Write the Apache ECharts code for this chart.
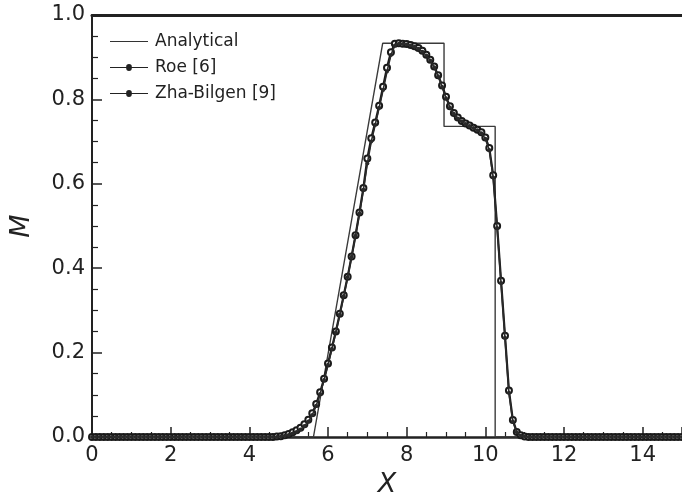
<!DOCTYPE html>
<html><head><meta charset="utf-8">
<script src="https://cdn.jsdelivr.net/npm/echarts@6/dist/echarts.min.js"></script>
<style>html,body{margin:0;padding:0;background:#fff}#c{width:682px;height:503px}</style>
</head><body><div id="c"></div>
<script>
var analyticX = [0, 5.63, 7.39, 8.95, 8.95, 10.25, 10.25, 15];
var analyticM = [0, 0, 0.933, 0.933, 0.736, 0.736, 0, 0];

var xGrid = [0,0.1,0.2,0.3,0.4,0.5,0.6,0.7,0.8,0.9,1,1.1,1.2,1.3,1.4,1.5,1.6,1.7,1.8,1.9,2,2.1,2.2,2.3,2.4,2.5,2.6,2.7,2.8,2.9,3,3.1,3.2,3.3,3.4,3.5,3.6,3.7,3.8,3.9,4,4.1,4.2,4.3,4.4,4.5,4.6,4.7,4.8,4.9,5,5.1,5.2,5.3,5.4,5.5,5.6,5.7,5.8,5.9,6,6.1,6.2,6.3,6.4,6.5,6.6,6.7,6.8,6.9,7,7.1,7.2,7.3,7.4,7.5,7.6,7.7,7.8,7.9,8,8.1,8.2,8.3,8.4,8.5,8.6,8.7,8.8,8.9,9,9.1,9.2,9.3,9.4,9.5,9.6,9.7,9.8,9.9,10,10.1,10.2,10.3,10.4,10.5,10.6,10.7,10.8,10.9,11,11.1,11.2,11.3,11.4,11.5,11.6,11.7,11.8,11.9,12,12.1,12.2,12.3,12.4,12.5,12.6,12.7,12.8,12.9,13,13.1,13.2,13.3,13.4,13.5,13.6,13.7,13.8,13.9,14,14.1,14.2,14.3,14.4,14.5,14.6,14.7,14.8,14.9,15];

var roeM = [0,0,0,0,0,0,0,0,0,0, 0,0,0,0,0,0,0,0,0,0, 0,0,0,0,0,0,0,0,0,0, 0,0,0,0,0,0,0,0,0,0, 0,0,0,0,0,
 0,0,0.001,0.002,0.004,0.007,0.011,0.016,0.022,0.030,0.041,0.056,0.078,0.106,0.138,
 0.174,0.212,0.250,0.292,0.336,0.380,0.428,0.478,0.532,0.590,
 0.660,0.708,0.745,0.785,0.830,0.875,0.912,0.932,0.933,0.932,
 0.931,0.929,0.926,0.922,0.915,0.906,0.894,0.878,0.857,0.833,
 0.806,0.784,0.768,0.757,0.749,0.743,0.738,0.733,0.728,0.722,
 0.710,0.685,0.620,0.500,0.370,0.240,0.110,0.040,0.012,0.004,0.001,
 0,0,0,0,0,0,0,0,0,0, 0,0,0,0,0,0,0,0,0,0, 0,0,0,0,0,0,0,0,0,0, 0,0,0,0,0,0,0,0,0,0];

var zhaM = [0,0,0,0,0,0,0,0,0,0, 0,0,0,0,0,0,0,0,0,0, 0,0,0,0,0,0,0,0,0,0, 0,0,0,0,0,0,0,0,0,0, 0,0,0,0,0,
 0,0,0,0.001,0.003,0.005,0.008,0.012,0.018,0.026,0.037,0.052,0.074,0.102,0.135,
 0.171,0.209,0.248,0.290,0.334,0.379,0.427,0.477,0.530,0.586,
 0.648,0.700,0.740,0.780,0.822,0.866,0.905,0.928,0.932,0.931,
 0.930,0.928,0.925,0.920,0.913,0.904,0.892,0.876,0.855,0.830,
 0.803,0.781,0.766,0.755,0.748,0.742,0.737,0.732,0.727,0.720,
 0.707,0.680,0.615,0.495,0.365,0.235,0.105,0.037,0.011,0.003,0.001,
 0,0,0,0,0,0,0,0,0,0, 0,0,0,0,0,0,0,0,0,0, 0,0,0,0,0,0,0,0,0,0, 0,0,0,0,0,0,0,0,0,0];

var seriesNames = ['Analytical', 'Roe [6]', 'Zha-Bilgen [9]'];

function pairs(xs, ys) { return xs.map(function (x, i) { return [x, ys[i]]; }); }

var FONT = 'DejaVu Sans';
var lineIcon = 'path://M0,9.4 H40 V10.6 H0 Z';
var dotIcon = 'path://M0,9.4 H17 A3,3 0 0 1 23,9.4 H40 V10.6 H23 A3,3 0 0 1 17,10.6 H0 Z';
var chart = echarts.init(document.getElementById('c'), null, {renderer: 'canvas'});
chart.setOption({
  animation: false,
  backgroundColor: '#fff',
  grid: {left: 87, right: -6, top: 15, bottom: 65, containLabel: false},
  legend: {
    orient: 'vertical', left: 105, top: 28, itemWidth: 38, itemHeight: 8, itemGap: 9,
    symbolKeepAspect: true,
    textStyle: {fontFamily: FONT, fontSize: 17, color: '#222', padding: [0,0,0,2]},
    data: [
      {name: seriesNames[0], icon: lineIcon, itemStyle: {color: '#333', borderWidth: 0}},
      {name: seriesNames[1], icon: dotIcon, itemStyle: {color: '#222', borderWidth: 0}},
      {name: seriesNames[2], icon: dotIcon, itemStyle: {color: '#222', borderWidth: 0}}
    ]
  },
  xAxis: [{
    type: 'value', min: 0, max: 15, interval: 2,
    name: 'X', nameLocation: 'middle', nameGap: 34,
    nameTextStyle: {fontFamily: FONT, fontSize: 27, fontStyle: 'italic', color: '#222'},
    axisLine: {show: true, onZero: false, lineStyle: {color: '#222', width: 2.5}},
    axisTick: {show: true, inside: true, length: 10, lineStyle: {color: '#222', width: 1.5}},
    minorTick: {show: true, splitNumber: 4, length: 5, lineStyle: {color: '#222', width: 1.2}},
    axisLabel: {fontFamily: FONT, fontSize: 21, color: '#222', margin: 8, showMaxLabel: false},
    splitLine: {show: false}
  }, {
    type: 'value', min: 0, max: 15, position: 'top',
    axisLine: {show: true, onZero: false, lineStyle: {color: '#222', width: 3}},
    axisTick: {show: false}, axisLabel: {show: false}, splitLine: {show: false}
  }],
  yAxis: [{
    type: 'value', min: 0, max: 1, interval: 0.2,
    name: 'M', nameLocation: 'middle', nameGap: 57,
    nameTextStyle: {fontFamily: FONT, fontSize: 27, fontStyle: 'italic', color: '#222'},
    axisLine: {show: true, onZero: false, lineStyle: {color: '#222', width: 2}},
    axisTick: {show: true, inside: true, length: 10, lineStyle: {color: '#222', width: 1.5}},
    minorTick: {show: true, splitNumber: 4, length: 6, lineStyle: {color: '#222', width: 1.2}},
    axisLabel: {fontFamily: FONT, fontSize: 21, color: '#222', margin: 7,
      formatter: function (v) { return v.toFixed(1); }},
    splitLine: {show: false}
  }],
  series: [
    {name: seriesNames[0], type: 'line', xAxisIndex: 0, data: pairs(analyticX, analyticM),
      symbol: 'none', lineStyle: {color: '#3a3a3a', width: 1.4}, itemStyle: {color: '#3a3a3a'}, z: 2},
    {name: seriesNames[1], type: 'line', xAxisIndex: 0, data: pairs(xGrid, roeM),
      symbol: 'emptyCircle', symbolSize: 6, showAllSymbol: true,
      lineStyle: {color: '#1a1a1a', width: 2.2}, itemStyle: {color: '#1a1a1a', borderColor: '#1a1a1a', borderWidth: 1.3}, z: 3},
    {name: seriesNames[2], type: 'line', xAxisIndex: 0, data: pairs(xGrid, zhaM),
      symbol: 'circle', symbolSize: 4, showAllSymbol: true,
      lineStyle: {color: '#2a2a2a', width: 1.6}, itemStyle: {color: '#2a2a2a'}, z: 4}
  ]
});
</script></body></html>
